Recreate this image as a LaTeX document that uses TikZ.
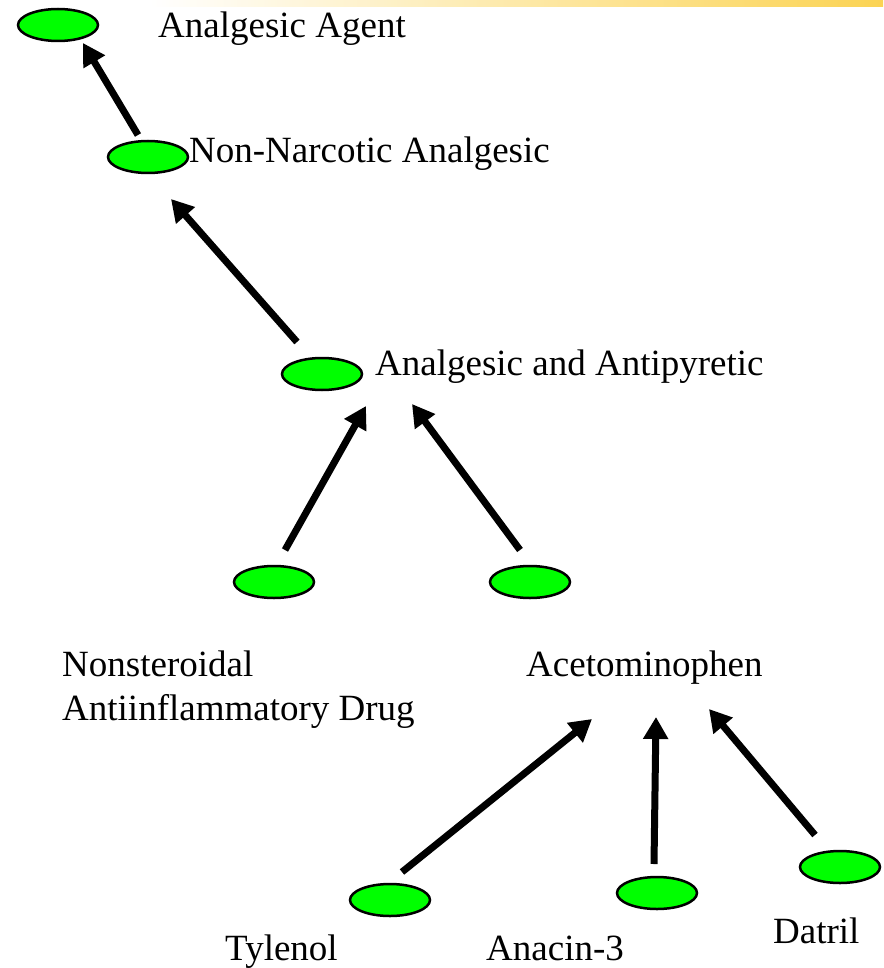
\documentclass[tikz,border=0pt]{standalone}
\usepackage{fontspec}
\setmainfont{Liberation Serif}
\usetikzlibrary{arrows.meta,shapes.geometric}
\definecolor{pillgreen}{RGB}{0,255,0}
\definecolor{bandgold}{RGB}{250,200,40}
\tikzset{
  pill/.style={ellipse,draw=black,line width=2.5pt,fill=pillgreen,minimum width=80pt,minimum height=32pt,inner sep=0pt},
  lbl/.style={anchor=base west,inner sep=0pt,font=\fontsize{37}{44}\selectfont},
  arr/.style={line width=7pt,-{Triangle[length=22pt,width=24pt]}}
}
\begin{document}
\begin{tikzpicture}[x=1pt,y=-1pt]
\useasboundingbox (0,0) rectangle (883,968);
% decorative band at the top
\shade[left color=white,right color=bandgold,opacity=0.8] (150,0) rectangle (883,7);
% nodes
\node[pill] (aa) at (58,25) {};
\node[pill] (nn) at (148,157) {};
\node[pill] (ap) at (322,374) {};
\node[pill] (ns) at (274,582) {};
\node[pill] (ac) at (530,582) {};
\node[pill] (ty) at (390,900) {};
\node[pill] (an) at (657,893) {};
\node[pill] (da) at (840,867) {};
% labels
\node[lbl] (aal) at (158,38) {Analgesic Agent};
\node[lbl] (nnl) at (189,163) {Non-Narcotic Analgesic};
\node[lbl] (apl) at (375,375) {Analgesic and Antipyretic};
\node[lbl] (nsl) at (62,676) {Nonsteroidal};
\node[lbl] (nsl2) at (62,720) {Antiinflammatory Drug};
\node[lbl] (acl) at (526,676) {Acetominophen};
\node[lbl] (tyl) at (225,960) {Tylenol};
\node[lbl] (anl) at (486,960) {Anacin-3};
\node[lbl] (dal) at (773,943) {Datril};
% connectors
\draw[arr] ([shift={(-10,-22)}]nn.center) -- ([shift={(25,18)}]aa.center);
\draw[arr] ([shift={(-25,-32)}]ap.center) -- ([shift={(23,42)}]nn.center);
\draw[arr] ([shift={(11,-32)}]ns.center) -- ([shift={(44,32)}]ap.center);
\draw[arr] ([shift={(-10,-32)}]ac.center) -- ([shift={(90,30)}]ap.center);
\draw[arr] ([shift={(12,-28)}]ty.center) -- ([shift={(62,137)}]ac.center);
\draw[arr] ([shift={(-3,-29)}]an.center) -- ([shift={(126,135)}]ac.center);
\draw[arr] ([shift={(-25,-32)}]da.center) -- ([shift={(179,127)}]ac.center);
\end{tikzpicture}
\end{document}
